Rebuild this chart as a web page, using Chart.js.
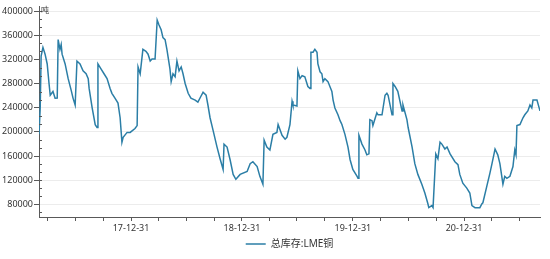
<!DOCTYPE html>
<html>
<head>
<meta charset="utf-8">
<script src="https://cdn.jsdelivr.net/npm/chart.js@4"></script>
<style>
  html, body { margin: 0; padding: 0; background: #fff; }
  #wrap { width: 550px; height: 259px; }
</style>
</head>
<body>
<div id="wrap"><canvas id="stockChart"></canvas></div>
<script>
// LME copper total stock, tonnes
const dates = [
  "2017-03-03","2017-03-07","2017-03-10","2017-03-16","2017-03-23","2017-03-30","2017-04-02","2017-04-05",
  "2017-04-09","2017-04-18","2017-04-25","2017-05-02","2017-05-05","2017-05-11","2017-05-15","2017-05-18",
  "2017-05-28","2017-06-07","2017-06-17","2017-06-23","2017-06-30","2017-07-06","2017-07-16","2017-07-26",
  "2017-08-05","2017-08-12","2017-08-15","2017-08-25","2017-09-04","2017-09-10","2017-09-13","2017-09-23",
  "2017-10-03","2017-10-13","2017-10-23","2017-10-29","2017-11-08","2017-11-18","2017-11-25","2017-12-01",
  "2017-12-05","2017-12-18","2017-12-28","2018-01-13","2018-01-20","2018-01-23","2018-01-30","2018-02-08",
  "2018-02-18","2018-02-25","2018-03-04","2018-03-10","2018-03-20","2018-03-27","2018-04-02","2018-04-09",
  "2018-04-15","2018-04-22","2018-04-28","2018-05-08","2018-05-12","2018-05-18","2018-05-25","2018-05-31",
  "2018-06-07","2018-06-14","2018-06-20","2018-06-27","2018-07-07","2018-07-16","2018-07-30","2018-08-08",
  "2018-08-18","2018-08-25","2018-09-04","2018-09-10","2018-09-17","2018-09-27","2018-10-10","2018-10-20",
  "2018-10-30","2018-11-02","2018-11-12","2018-11-22","2018-12-02","2018-12-11","2018-12-25","2019-01-17",
  "2019-01-27","2019-02-05","2019-02-19","2019-02-28","2019-03-10","2019-03-14","2019-03-23","2019-04-02",
  "2019-04-12","2019-04-25","2019-04-29","2019-05-12","2019-05-22","2019-05-28","2019-06-07","2019-06-14",
  "2019-06-17","2019-06-30","2019-07-03","2019-07-10","2019-07-17","2019-07-26","2019-08-05","2019-08-12",
  "2019-08-15","2019-08-22","2019-08-28","2019-09-04","2019-09-07","2019-09-14","2019-09-20","2019-09-24",
  "2019-09-30","2019-10-10","2019-10-23","2019-10-27","2019-11-02","2019-11-12","2019-11-19","2019-11-25",
  "2019-12-05","2019-12-15","2019-12-22","2019-12-31","2020-01-14","2020-01-17","2020-01-20","2020-01-30",
  "2020-02-09","2020-02-15","2020-02-22","2020-02-25","2020-03-03","2020-03-06","2020-03-19","2020-03-23",
  "2020-04-05","2020-04-15","2020-04-21","2020-04-25","2020-05-08","2020-05-11","2020-05-18","2020-05-27",
  "2020-06-10","2020-06-13","2020-06-26","2020-06-30","2020-07-13","2020-07-22","2020-08-01","2020-08-14",
  "2020-08-24","2020-09-03","2020-09-06","2020-09-16","2020-09-20","2020-09-29","2020-10-06","2020-10-13",
  "2020-10-19","2020-10-29","2020-11-05","2020-11-15","2020-12-01","2020-12-11","2020-12-17","2020-12-27",
  "2021-01-09","2021-01-19","2021-01-26","2021-02-05","2021-02-21","2021-02-28","2021-03-03","2021-03-16",
  "2021-03-26","2021-04-02","2021-04-12","2021-04-21","2021-04-28","2021-05-08","2021-05-14","2021-05-21",
  "2021-05-31","2021-06-10","2021-06-16","2021-06-20","2021-06-23","2021-07-03","2021-07-13","2021-07-19",
  "2021-07-29","2021-08-05","2021-08-11","2021-08-15","2021-08-28","2021-09-07"
];
const stock = [
  196000,240000,325500,340100,328800,312600,296400,280200,
  260800,267000,255900,256000,353000,336800,345000,328800,
  312600,288300,268800,256000,244600,317400,312600,301200,
  296400,288300,272100,239700,212000,207300,312600,304500,
  296400,288300,272100,264000,255900,247800,223500,183000,
  191100,199200,199200,205700,210500,307700,296400,336800,
  333600,328800,317400,320700,320700,385400,377300,369200,
  356300,353000,336800,304500,283400,296400,291500,317400,
  301200,307700,296400,280200,264000,255900,252700,249400,
  259100,265600,260800,244600,223500,202500,174900,155500,
  137700,179800,174900,153900,129600,121500,129600,134500,
  147400,150700,142600,126400,113400,186200,174900,170100,
  196000,199200,212200,194400,187900,191100,212200,251000,
  244600,243000,301200,288300,293200,291500,275300,272100,
  332000,332000,336800,332000,312600,299600,296400,283400,
  288300,283400,267200,252700,239700,228400,218600,212200,
  196000,174900,153900,137700,126400,123100,194400,179800,
  170100,162000,163600,220300,218600,210500,231600,228400,
  228400,260800,264000,260800,228400,280200,275300,267200,
  234800,244600,220300,207300,174900,147400,129600,113400,
  98800,81000,74500,77800,74500,163600,155500,183000,
  179800,171700,174900,163600,150700,145800,129600,115000,
  106900,98800,77800,74500,74500,81000,82600,110100,
  131200,147400,171700,162000,147400,113400,126400,123100,
  126400,142600,170100,162000,210500,212200,223500,228400,
  234800,244600,239700,252700,252700,234800
];
const yTicks = [80000, 120000, 160000, 200000, 240000, 280000, 320000, 360000, 400000];
const xTickDates = [
  "2017-03-31","2017-06-30","2017-09-30","2017-12-31",
  "2018-03-31","2018-06-30","2018-09-30","2018-12-31",
  "2019-03-31","2019-06-30","2019-09-30","2019-12-31",
  "2020-03-31","2020-06-30","2020-09-30","2020-12-31",
  "2021-03-31","2021-06-30"
];
const seriesName = "总库存:LME铜";
const unitLabel = "吨";

const toMs = s => Date.parse(s + "T00:00:00Z");
const points = dates.map((d, i) => ({ x: toMs(d), y: stock[i] }));

const axisColor = "#595959";
const textColor = "#333333";
const fontFamily = "'Noto Sans', 'Noto Sans CJK SC', sans-serif";

// unit text and small inner minor ticks on the value axis
const extras = {
  id: "extras",
  afterDraw(chart) {
    const ctx = chart.ctx;
    const y = chart.scales.y;
    const left = chart.chartArea.left;
    ctx.save();
    ctx.strokeStyle = axisColor;
    ctx.lineWidth = 1;
    const step = 40000 / 3;
    for (let v = yTicks[0] - step; v < yTicks[yTicks.length - 1]; v += step) {
      if (Math.abs((v - yTicks[0]) % 40000) < 1) continue;
      const py = Math.round(y.getPixelForValue(v)) + 0.5;
      if (py > chart.chartArea.bottom || py < chart.chartArea.top) continue;
      ctx.beginPath();
      ctx.moveTo(left, py);
      ctx.lineTo(left + 3, py);
      ctx.stroke();
    }
    ctx.fillStyle = textColor;
    ctx.font = "8px 'Noto Sans CJK SC'";
    ctx.textBaseline = "middle";
    ctx.fillText(unitLabel, left + 2, y.getPixelForValue(400000) - 1);
    ctx.restore();
  }
};

new Chart(document.getElementById("stockChart"), {
  type: "line",
  data: {
    datasets: [{
      label: seriesName,
      data: points,
      borderColor: "#2b7ea6",
      backgroundColor: "#2b7ea6",
      borderWidth: 1.5,
      pointRadius: 0,
      tension: 0,
      fill: false
    }]
  },
  options: {
    responsive: true,
    maintainAspectRatio: false,
    animation: false,
    layout: { padding: { top: 6, right: 10, left: 0, bottom: 0 } },
    plugins: {
      legend: {
        position: "bottom",
        fullSize: false,
        labels: {
          usePointStyle: true,
          pointStyle: "line",
          pointStyleWidth: 20,
          boxHeight: 10,
          padding: 3,
          color: textColor,
          font: { family: fontFamily, size: 10 }
        }
      },
      tooltip: { enabled: false }
    },
    scales: {
      x: {
        type: "linear",
        min: points[0].x,
        max: points[points.length - 1].x,
        afterBuildTicks(scale) {
          scale.ticks = xTickDates.map(d => ({ value: toMs(d) }));
        },
        afterFit(scale) { scale.height = 19; },
        ticks: {
          autoSkip: false,
          maxRotation: 0,
          padding: 2,
          color: textColor,
          font: { family: fontFamily, size: 9 },
          callback(value) {
            const d = new Date(value);
            if (d.getUTCMonth() !== 11) return "";
            const yy = String(d.getUTCFullYear()).slice(2);
            return yy + "-12-31";
          }
        },
        grid: {
          drawOnChartArea: false,
          drawTicks: true,
          tickLength: 4,
          tickColor: axisColor
        },
        border: { color: axisColor, width: 1 }
      },
      y: {
        min: 59000,
        max: 408000,
        afterBuildTicks(scale) {
          scale.ticks = yTicks.map(v => ({ value: v }));
        },
        afterFit(scale) { scale.width = 39; },
        ticks: {
          padding: 1,
          color: textColor,
          font: { family: fontFamily, size: 9 },
          callback: value => String(value)
        },
        grid: {
          color: "#ececec",
          drawTicks: true,
          tickLength: 5,
          tickColor: axisColor
        },
        border: { color: axisColor, width: 1 }
      }
    }
  },
  plugins: [extras]
});
</script>
</body>
</html>
